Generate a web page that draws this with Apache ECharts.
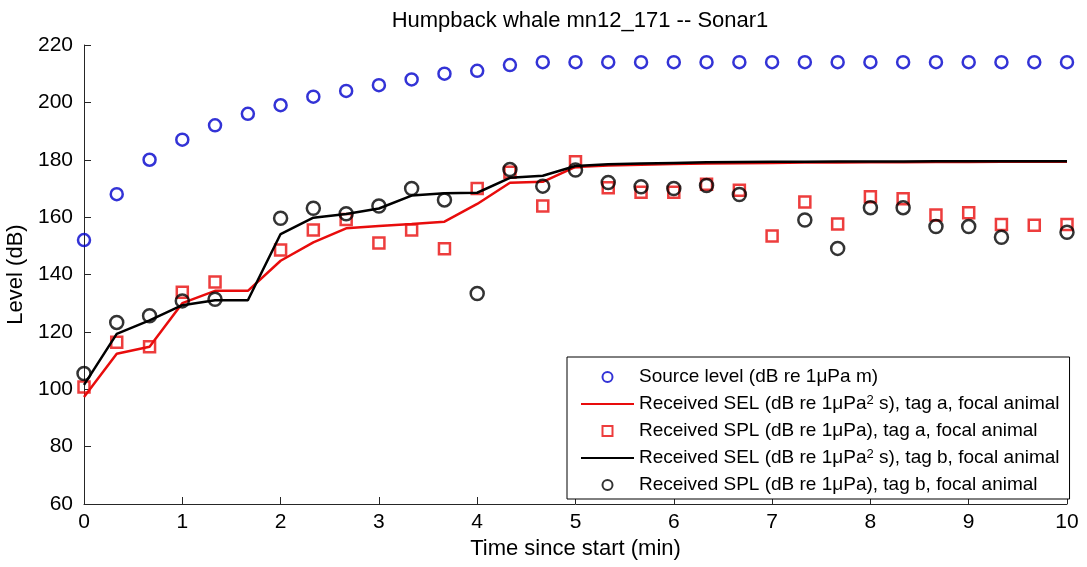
<!DOCTYPE html>
<html>
<head>
<meta charset="utf-8">
<script src="https://cdn.jsdelivr.net/npm/echarts@6/dist/echarts.min.js"></script>
<style>html,body{margin:0;padding:0;background:#fff}#c{width:1087px;height:567px}</style>
</head>
<body>
<div id="c"></div>
<script>
// Time since start (min)
var times = [0,0.333,0.667,1,1.333,1.667,2,2.333,2.667,3,3.333,3.667,4,4.333,4.667,5,5.333,5.667,6,6.333,6.667,7,7.333,7.667,8,8.333,8.667,9,9.333,9.667,10];
var sourceLevel = [152,168,180,187,192,196,199,202,204,206,208,210,211,213,214,214,214,214,214,214,214,214,214,214,214,214,214,214,214,214,214];
var selTagA = [97.3,112.4,114.8,130,134.3,134.3,144.8,151.2,156.1,156.9,157.6,158.4,164.6,172,172.3,177.5,178,178.3,178.5,178.7,178.8,178.9,179,179,179.1,179.1,179.2,179.2,179.3,179.3,179.3];
var splTagA = [100.8,116.4,114.8,133.8,137.4,null,148.5,155.5,159.2,151,155.5,149,170,175.6,163.9,179.3,170.2,168.7,168.7,171.5,169.4,153.4,165.3,157.6,167.1,166.4,160.7,161.5,157.4,157.2,157.4];
var selTagB = [101.5,119.3,124,129.3,131,131,154.1,159.8,161.1,163,167.5,168.3,168.5,173.7,174.4,177.8,178.4,178.7,178.9,179.1,179.2,179.3,179.3,179.4,179.4,179.4,179.5,179.5,179.5,179.5,179.5];
var splTagB = [105.5,123.3,125.6,130.8,131.4,null,159.6,163.1,161.2,163.9,170,166,133.4,176.6,170.8,176.4,172.1,170.6,170,171,167.9,null,159,149.1,163.3,163.3,156.7,156.7,153,null,154.7];
var xTicks = [0,1,2,3,4,5,6,7,8,9,10];
var yTicks = [60,80,100,120,140,160,180,200,220];
var seriesNames = [
  'Source level (dB re 1\u03bcPa m)',
  'Received SEL (dB re 1\u03bcPa\u00b2 s), tag a, focal animal',
  'Received SPL (dB re 1\u03bcPa), tag a, focal animal',
  'Received SEL (dB re 1\u03bcPa\u00b2 s), tag b, focal animal',
  'Received SPL (dB re 1\u03bcPa), tag b, focal animal'
];
var titleText = 'Humpback whale mn12_171 -- Sonar1';
var xName = 'Time since start (min)';
var yName = 'Level (dB)';

function pairs(vals){
  var out = [];
  for (var i = 0; i < times.length; i++) { if (vals[i] !== null) out.push([times[i], vals[i]]); }
  return out;
}

var FONT = 'Liberation Sans';
var RED = '#e80c0c';
var BLUE = '#0000cc';
var BLACK = '#000000';
var SQUARE = 'path://M0,0H10V10H0Z';

var legendData = seriesNames.map(function(n, i){
  return (i === 1 || i === 3) ? {name: n, itemStyle: {opacity: 0}} : {name: n};
});

var chart = echarts.init(document.getElementById('c'), null, {renderer: 'canvas'});
chart.setOption({
  animation: false,
  backgroundColor: '#fff',
  title: {
    text: titleText,
    left: 575, textAlign: 'center', top: 5,
    textStyle: {fontFamily: FONT, fontSize: 22, fontWeight: 'normal', color: '#000'}
  },
  grid: {left: 84, right: 20, top: 45, bottom: 63, containLabel: false, outerBoundsMode: 'none'},
  xAxis: {
    type: 'value', min: 0, max: 10, interval: 1,
    name: xName, nameLocation: 'middle', nameGap: 34,
    nameTextStyle: {fontFamily: FONT, fontSize: 22, color: '#000'},
    axisLine: {show: true, lineStyle: {color: '#262626', width: 1}},
    axisTick: {show: true, inside: true, length: 7, lineStyle: {color: '#262626'}},
    axisLabel: {fontFamily: FONT, fontSize: 21, color: '#000', margin: 8,
      formatter: function(v){ return xTicks.indexOf(v) >= 0 ? String(v) : ''; }},
    splitLine: {show: false}
  },
  yAxis: {
    type: 'value', min: 60, max: 220, interval: 20,
    name: yName, nameLocation: 'middle', nameGap: 46,
    nameTextStyle: {fontFamily: FONT, fontSize: 22, color: '#000'},
    axisLine: {show: true, lineStyle: {color: '#262626', width: 1}},
    axisTick: {show: true, inside: true, length: 7, lineStyle: {color: '#262626'}},
    axisLabel: {fontFamily: FONT, fontSize: 21, color: '#000', margin: 11,
      formatter: function(v){ return yTicks.indexOf(v) >= 0 ? String(v) : ''; }},
    splitLine: {show: false}
  },
  legend: {
    orient: 'vertical', left: 567, top: 357,
    padding: [10, 10, 4, 13], itemGap: 7, itemWidth: 53, itemHeight: 10,
    borderColor: '#000', borderWidth: 1, backgroundColor: '#fff',
    selectedMode: false,
    data: legendData,
    formatter: function(name){ return name.replace('\u00b2', '{sup|2}'); },
    textStyle: {fontFamily: FONT, fontSize: 19, color: '#000', lineHeight: 20,
      rich: {sup: {fontFamily: FONT, fontSize: 13, verticalAlign: 'top', lineHeight: 13, color: '#000'}}}
  },
  series: [
    {name: seriesNames[0], type: 'scatter', data: pairs(sourceLevel), symbol: 'circle', symbolSize: 12,
     itemStyle: {color: 'rgba(255,255,255,0)', borderColor: BLUE, borderWidth: 2.5}, z: 2},
    {name: seriesNames[1], type: 'line', data: pairs(selTagA), symbol: 'none', lineStyle: {color: RED, width: 2.5}, itemStyle: {color: RED}, z: 3},
    {name: seriesNames[2], type: 'scatter', data: pairs(splTagA), symbol: SQUARE, symbolSize: 11, symbolKeepAspect: true,
     itemStyle: {color: 'rgba(255,255,255,0)', borderColor: RED, borderWidth: 2.5}, z: 4},
    {name: seriesNames[3], type: 'line', data: pairs(selTagB), symbol: 'none', lineStyle: {color: BLACK, width: 2.5}, itemStyle: {color: BLACK}, z: 5},
    {name: seriesNames[4], type: 'scatter', data: pairs(splTagB), symbol: 'circle', symbolSize: 13,
     itemStyle: {color: 'rgba(255,255,255,0)', borderColor: BLACK, borderWidth: 2.5}, z: 6}
  ]
});
</script>
</body>
</html>
